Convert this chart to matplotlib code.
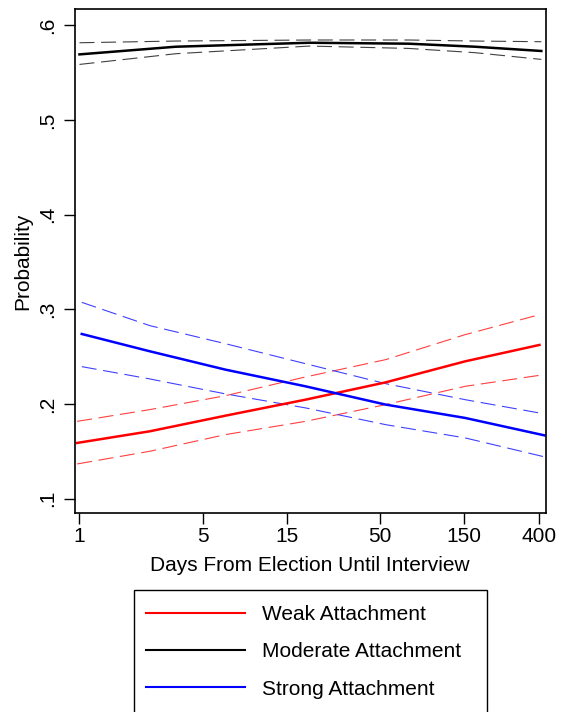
import numpy as np
import matplotlib.pyplot as plt
from matplotlib.lines import Line2D
from matplotlib.patches import Rectangle

plt.rcParams['font.family'] = ['Liberation Sans', 'DejaVu Sans']

# valori
days_w = [0.97, 2.5, 6.7, 19, 54, 152, 400]
weak = [0.159, 0.1713, 0.1878, 0.2047, 0.223, 0.2452, 0.2625]
weak_hi = [0.1818, 0.1942, 0.2089, 0.2287, 0.2470, 0.2734, 0.2945]
weak_lo = [0.1368, 0.1502, 0.1678, 0.1818, 0.1995, 0.2188, 0.2304]

days_s = [1.03, 2.5, 6.7, 19, 54, 152, 427]
strong = [0.2741, 0.2558, 0.2364, 0.2188, 0.1995, 0.1854, 0.167]
strong_hi = [0.3075, 0.2829, 0.2638, 0.2427, 0.2216, 0.2047, 0.1897]
strong_lo = [0.2396, 0.2266, 0.2108, 0.196, 0.1783, 0.1643, 0.1443]

days_m = [1, 3.5, 20, 73, 173, 410]
moderate = [0.5694, 0.5775, 0.5817, 0.5807, 0.5775, 0.573]
moderate_hi = [0.5817, 0.5835, 0.5846, 0.5846, 0.5835, 0.5828]
moderate_lo = [0.5588, 0.5701, 0.5782, 0.5757, 0.5712, 0.5641]

xticks = [1, 5, 15, 50, 150, 400]
yticks = [0.1, 0.2, 0.3, 0.4, 0.5, 0.6]
ylabels = ['.1', '.2', '.3', '.4', '.5', '.6']
labels = ['Weak Attachment', 'Moderate Attachment', 'Strong Attachment']

fig = plt.figure(figsize=(5.61, 7.12), dpi=100)
ax = fig.add_axes([0.1332, 0.2795, 0.8392, 0.7074])

dash = (0, (13.5, 6))
ax.plot(days_w, weak_hi, color='#ff4040', lw=0.8, linestyle=dash)
ax.plot(days_w, weak_lo, color='#ff4040', lw=0.8, linestyle=dash)
ax.plot(days_m, moderate_hi, color='#404040', lw=0.8, linestyle=dash)
ax.plot(days_m, moderate_lo, color='#404040', lw=0.8, linestyle=dash)
ax.plot(days_s, strong_hi, color='#4040ff', lw=0.8, linestyle=dash)
ax.plot(days_s, strong_lo, color='#4040ff', lw=0.8, linestyle=dash)

ax.plot(days_w, weak, color='red', lw=1.8)
ax.plot(days_m, moderate, color='black', lw=1.8)
ax.plot(days_s, strong, color='blue', lw=1.8)

ax.set_xscale('log')
ax.set_xlim(0.94, 433)
ax.set_ylim(0.085, 0.617)
ax.set_xticks(xticks)
ax.set_xticklabels([str(t) for t in xticks])
ax.xaxis.set_minor_locator(plt.NullLocator())
ax.set_yticks(yticks)
ax.set_yticklabels(ylabels, rotation=90, va='center')
ax.tick_params(axis='both', direction='out', length=8, width=1, labelsize=15, color='black')
ax.tick_params(axis='x', pad=2)
ax.tick_params(axis='y', pad=5)
for s in ax.spines.values():
    s.set_linewidth(1.2)

ax.set_xlabel('Days From Election Until Interview', fontsize=15, labelpad=7)
ax.set_ylabel('Probability', fontsize=15, labelpad=4)

# legenda: cornice a mano che esce dal fondo della figura
fig.add_artist(Rectangle((134/561, 1-720/712), 353/561, 130/712,
                         transform=fig.transFigure, fill=False,
                         edgecolor='black', lw=1.0, clip_on=False))
handles = [Line2D([], [], color='red', lw=1.5),
           Line2D([], [], color='black', lw=1.5),
           Line2D([], [], color='blue', lw=1.5)]
fig.legend(handles, labels, loc='upper left', bbox_to_anchor=(146/561, 1-605/712),
           fontsize=15, frameon=False, handlelength=4.76, handletextpad=0.82,
           labelspacing=0.88, borderpad=0, borderaxespad=0)

fig.savefig('out.png', dpi=100)
